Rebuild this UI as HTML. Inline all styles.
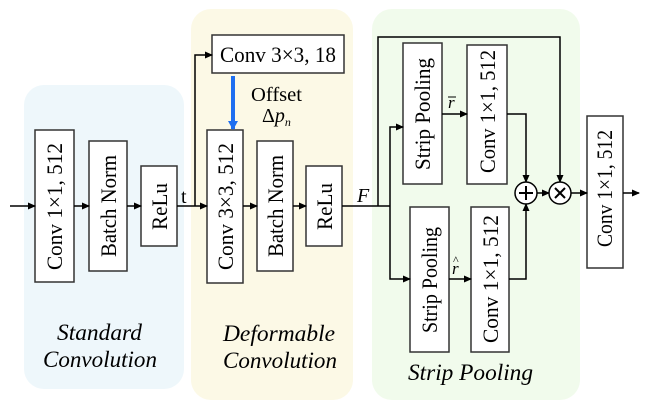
<!DOCTYPE html>
<html><head><meta charset="utf-8"><style>
html,body{margin:0;padding:0;background:#fff;}
svg{display:block;}
svg text, svg tspan{font-family:"Liberation Serif","DejaVu Serif","Times New Roman",Times,serif !important;fill:#000;}
</style></head><body>
<svg width="649" height="409" viewBox="0 0 649 409" xmlns="http://www.w3.org/2000/svg">
<defs>
<marker id="a" markerWidth="8" markerHeight="8" refX="7" refY="4" orient="auto" markerUnits="userSpaceOnUse">
<path d="M0,0.5 L8,4 L0,7.5 Z" fill="#000"/></marker>
<marker id="b" markerWidth="10" markerHeight="10" refX="8" refY="5" orient="auto" markerUnits="userSpaceOnUse">
<path d="M0,0 L9,5 L0,10 Z" fill="#1e6ff0"/></marker>
</defs>
<rect x="24" y="85" width="160" height="304" rx="20" fill="#eef7fb"/>
<rect x="191" y="9" width="162" height="391" rx="20" fill="#fcf9e6"/>
<rect x="372" y="9" width="208" height="391" rx="20" fill="#f1fbec"/>

<g fill="#fff" stroke="#333" stroke-width="1.5">
<rect x="35" y="130" width="39" height="152"/>
<rect x="89" y="141" width="38" height="130"/>
<rect x="141" y="166" width="36" height="80"/>
<rect x="212" y="35" width="132" height="38"/>
<rect x="207" y="130" width="36" height="153"/>
<rect x="257" y="141" width="36" height="130"/>
<rect x="306" y="166" width="36" height="80"/>
<rect x="403" y="43" width="39" height="141"/>
<rect x="467" y="45" width="40" height="139"/>
<rect x="410" y="207" width="39" height="145"/>
<rect x="471" y="207" width="38" height="145"/>
<rect x="587" y="116" width="36" height="152"/>
</g>

<g stroke="#000" stroke-width="1.5" fill="none">
<line x1="10" y1="206" x2="35" y2="206" marker-end="url(#a)"/>
<line x1="74" y1="206" x2="89" y2="206" marker-end="url(#a)"/>
<line x1="127" y1="206" x2="141" y2="206" marker-end="url(#a)"/>
<line x1="177" y1="206" x2="207" y2="206" marker-end="url(#a)"/>
<polyline points="195,206 195,55 212,55" marker-end="url(#a)"/>
<line x1="243" y1="206" x2="257" y2="206" marker-end="url(#a)"/>
<line x1="293" y1="206" x2="306" y2="206" marker-end="url(#a)"/>
<line x1="342" y1="206" x2="390" y2="206"/>
<polyline points="378,206 378,37 560,37 560,182" marker-end="url(#a)"/>
<polyline points="390,206 390,127 403,127" marker-end="url(#a)"/>
<polyline points="390,206 390,279 410,279" marker-end="url(#a)"/>
<line x1="442" y1="114" x2="467" y2="114" marker-end="url(#a)"/>
<line x1="449" y1="279" x2="471" y2="279" marker-end="url(#a)"/>
<polyline points="507,114 526,114 526,182" marker-end="url(#a)"/>
<polyline points="509,279 526,279 526,204" marker-end="url(#a)"/>
<line x1="537" y1="193" x2="549" y2="193" marker-end="url(#a)"/>
<line x1="571" y1="193" x2="587" y2="193" marker-end="url(#a)"/>
<line x1="623" y1="193" x2="639" y2="193" marker-end="url(#a)"/>
<circle cx="526" cy="193" r="11" fill="#fff"/>
<circle cx="560" cy="193" r="11" fill="#fff"/>
<path d="M526,186 V200 M519,193 H533" stroke-width="2"/>
<path d="M555,188 L565,198 M565,188 L555,198" stroke-width="2"/>
</g>
<line x1="233" y1="76" x2="233" y2="129" stroke="#1e6ff0" stroke-width="4" marker-end="url(#b)"/>

<g font-size="22">
<text transform="translate(62,270) rotate(-90)" textLength="127" lengthAdjust="spacingAndGlyphs">Conv 1×1, 512</text>
<text transform="translate(116,257) rotate(-90)" textLength="102" lengthAdjust="spacingAndGlyphs">Batch Norm</text>
<text transform="translate(167,230) rotate(-90)" textLength="47" lengthAdjust="spacingAndGlyphs">ReLu</text>
<text x="220" y="62" textLength="116" lengthAdjust="spacingAndGlyphs">Conv 3×3, 18</text>
<text transform="translate(233,270) rotate(-90)" textLength="127" lengthAdjust="spacingAndGlyphs">Conv 3×3, 512</text>
<text transform="translate(283,257) rotate(-90)" textLength="102" lengthAdjust="spacingAndGlyphs">Batch Norm</text>
<text transform="translate(332,230) rotate(-90)" textLength="47" lengthAdjust="spacingAndGlyphs">ReLu</text>
<text transform="translate(430,170) rotate(-90)" textLength="112" lengthAdjust="spacingAndGlyphs">Strip Pooling</text>
<text transform="translate(495,173) rotate(-90)" textLength="123" lengthAdjust="spacingAndGlyphs">Conv 1×1, 512</text>
<text transform="translate(437,333) rotate(-90)" textLength="106" lengthAdjust="spacingAndGlyphs">Strip Pooling</text>
<text transform="translate(498,343) rotate(-90)" textLength="128" lengthAdjust="spacingAndGlyphs">Conv 1×1, 512</text>
<text transform="translate(612,247) rotate(-90)" textLength="117" lengthAdjust="spacingAndGlyphs">Conv 1×1, 512</text>
<text x="251" y="101" textLength="51" lengthAdjust="spacingAndGlyphs" font-size="20">Offset</text>
<text x="262" y="122" font-size="20">Δ<tspan font-style="italic">p</tspan><tspan font-style="italic" font-size="12" dy="4">n</tspan></text>
<text x="181" y="203" font-size="20">t</text>
<text x="357" y="202" font-size="20" font-style="italic">F</text>
<text x="448" y="108" font-size="17" font-style="italic">r</text>
<line x1="448" y1="97" x2="456" y2="97" stroke="#000" stroke-width="1"/>
<text x="452" y="274" font-size="17" font-style="italic">r</text>
<text x="453" y="264" font-size="12">^</text>
<g font-style="italic" font-size="23">
<text x="57" y="340" textLength="85" lengthAdjust="spacingAndGlyphs">Standard</text>
<text x="43" y="367" textLength="114" lengthAdjust="spacingAndGlyphs">Convolution</text>
<text x="223" y="341" textLength="112" lengthAdjust="spacingAndGlyphs">Deformable</text>
<text x="223" y="368" textLength="114" lengthAdjust="spacingAndGlyphs">Convolution</text>
<text x="408" y="380" textLength="125" lengthAdjust="spacingAndGlyphs">Strip Pooling</text>
</g>
</g>
</svg>
</body></html>
